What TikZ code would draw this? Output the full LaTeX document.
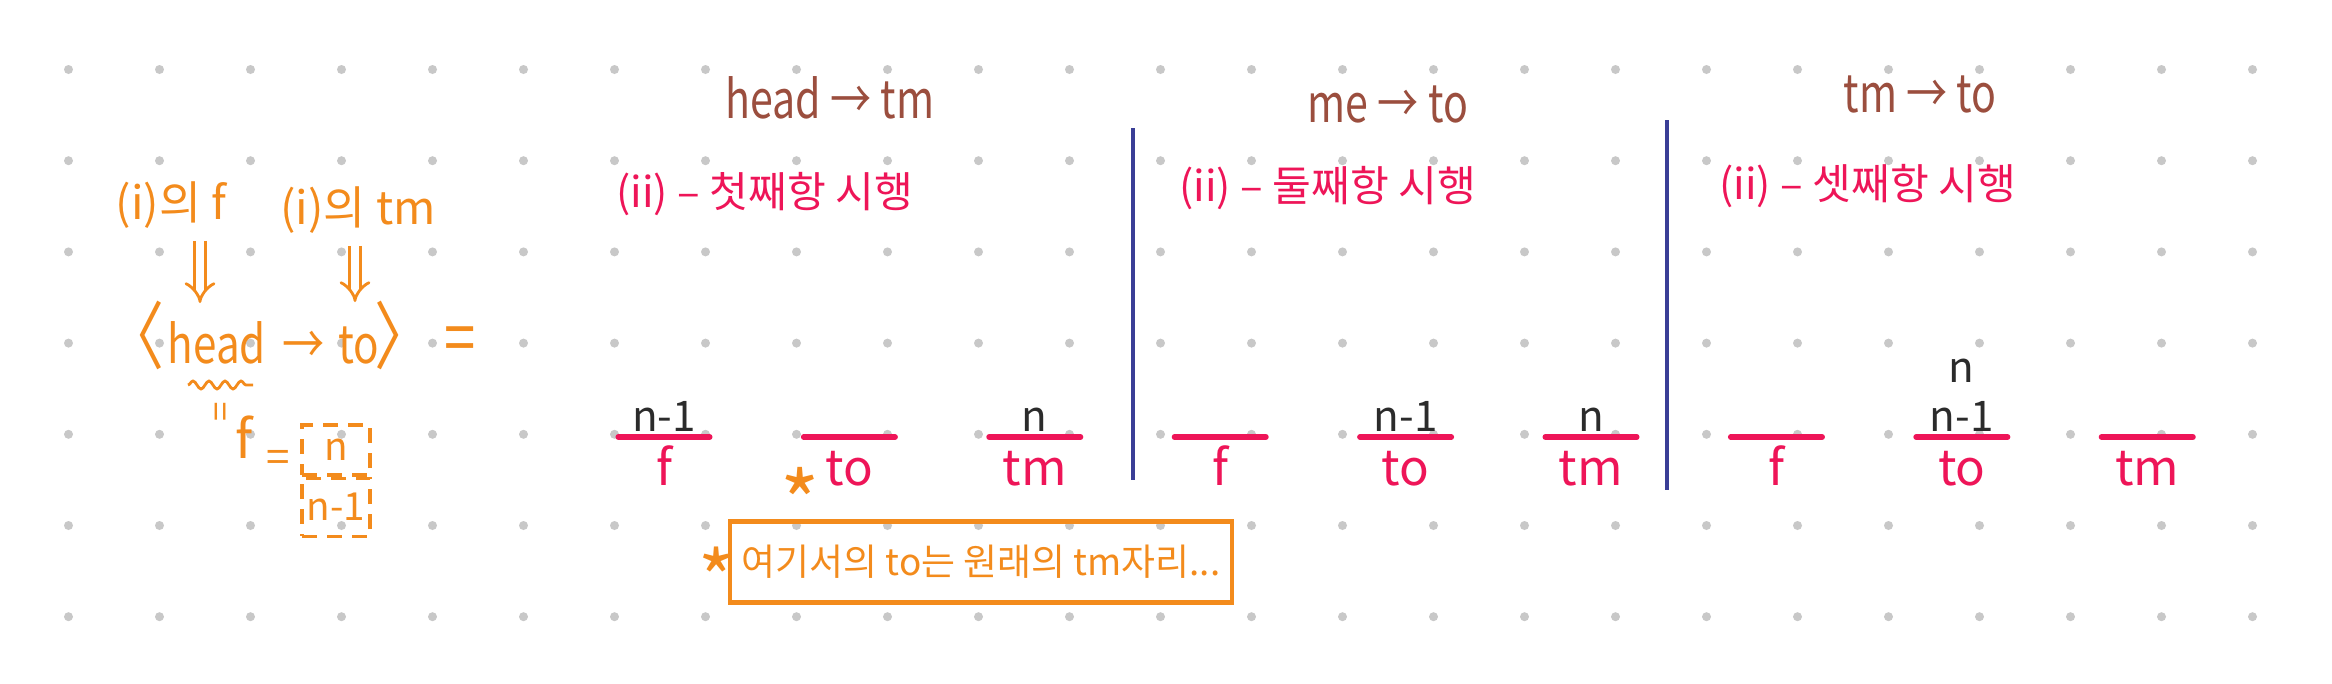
\documentclass[tikz,border=0pt]{standalone}
\usepackage{fontspec}
\setmainfont{Noto Sans CJK KR}
\usepackage{tikz}
\usetikzlibrary{arrows.meta}
\usetikzlibrary{positioning}
\usetikzlibrary{decorations.pathmorphing}
\definecolor{dotgray}{HTML}{C8C8C8}
\definecolor{penorange}{HTML}{F38B1C}
\definecolor{penbrown}{HTML}{9B4E3E}
\definecolor{penpink}{HTML}{EE1558}
\definecolor{penblue}{HTML}{3A3E96}
\definecolor{penblack}{HTML}{2B2B2B}

\begin{document}
\begin{tikzpicture}[x=0.1mm,y=-0.1mm,>={Implies[scale=1.4]}]
	\tikzstyle{title}=[text=penbrown,font=\fontsize{15}{18}\selectfont,xscale=0.78];
	\tikzstyle{casetext}=[text=penpink,anchor=west,font=\fontsize{12}{14}\selectfont];
	\tikzstyle{slot}=[text=penpink,minimum width=9mm,text height=3.5mm,text depth=0.5mm,
		inner ysep=1.3mm,font=\fontsize{14}{16}\selectfont,node distance=9.4mm,label distance=1.2mm];
	\tikzstyle{disc}=[text=penblack,font=\fontsize{12}{14}\selectfont,inner sep=0.5mm,align=center];
	\tikzstyle{slotline}=[penpink,line width=1.6pt,line cap=round];
	\tikzstyle{divider}=[penblue,line width=0.9pt];
	\tikzstyle{pen}=[text=penorange,font=\fontsize{13}{16}\selectfont];
	\tikzstyle{formula}=[text=penorange,font=\fontsize{15}{18}\selectfont,inner sep=0pt,xscale=0.8];
	\tikzstyle{cell}=[draw=penorange,line width=0.9pt,dash pattern=on 1.5mm off 1mm,inner xsep=0.3mm,
		text=penorange,minimum width=6.8mm,font=\fontsize{11}{13}\selectfont];
	\tikzstyle{implies}=[penorange,double,line width=0.8pt,double distance=2.2pt,->];

	\useasboundingbox (0,0) rectangle (2332,683);
	\fill[white] (0,0) rectangle (2332,683);
	% dot grid
	\foreach \i in {0,...,24}
		\foreach \j in {0,...,6}
			\fill[dotgray] (68.5+91*\i,69.5+91.2*\j) circle (0.45mm);

	% left: <head -> to> =
	\node[pen](fi) at (171,205) {(i)의 f};
	\node[pen](tmi) at (358,210) {(i)의 tm};
	\node[formula,anchor=base](head) at (217,363) {head};
	\node[formula,base left=0.25mm of head,font=\fontsize{21}{21}\selectfont](lbr) {〈};
	\node[formula,base right=1.5mm of head](arr) {→};
	\node[formula,base right=1.3mm of arr](to) {to};
	\node[formula,base right=-0.6mm of to,font=\fontsize{21}{21}\selectfont](rbr) {〉};
	\node[formula,base right=1mm of rbr,font=\fontsize{20}{20}\selectfont](eq) {=};
	\coordinate (a1) at (200,303);
	\coordinate (a2) at (355,302);
	\draw[implies](fi.south -| a1)--(a1);
	\draw[implies](tmi.south -| a2)--(a2);
	\draw[penorange,line width=0.8pt,decorate,decoration={snake,amplitude=0.4mm,segment length=1.6mm}]
		([xshift=-2.9mm,yshift=-2.2mm]head.base)--([xshift=3.6mm,yshift=-2.2mm]head.base);
	\node[pen,rotate=90,font=\fontsize{10}{10}\selectfont](same) at (224,412) {=};
	\node[formula,xscale=1.25](fhead) at (244,437) {f};
	\node[pen,font=\fontsize{12}{12}\selectfont](feq) at (278,461) {=};
	\node[cell,minimum height=5mm](cn) at (336,450) {n};
	\node[cell,minimum height=5.8mm,below=0mm of cn](cn1) {n-1};

	% titles
	\node[title](t1) at (830,98) {head → tm};
	\node[title](t2) at (1388,104) {me → to};
	\node[title](t3) at (1920,94) {tm → to};
	\node[casetext](c1) at (604,194) {(ii) – 첫째항 시행};
	\node[casetext](c2) at (1167,188) {(ii) – 둘째항 시행};
	\node[casetext](c3) at (1707,186) {(ii) – 셋째항 시행};
	\draw[divider](1133,128)--(1133,480);
	\draw[divider](1667,120)--(1667,490);

	% pegs
	\node[slot,anchor=north,label={[disc]above:n-1}](f1) at (664,437) {f};
	\node[slot,right=of f1](to1) {to};
	\node[slot,right=of to1,label={[disc]above:n}](tm1) {tm};
	\node[slot,right=of tm1](f2) {f};
	\node[slot,right=of f2,label={[disc]above:n-1}](to2) {to};
	\node[slot,right=of to2,label={[disc]above:n}](tm2) {tm};
	\node[slot,right=of tm2](f3) {f};
	\node[slot,right=of f3,label={[disc]above:n\\n-1}](to3) {to};
	\node[slot,right=of to3](tm3) {tm};
	\draw[slotline](f1.north west)--(f1.north east);
	\draw[slotline](to1.north west)--(to1.north east);
	\draw[slotline](tm1.north west)--(tm1.north east);
	\draw[slotline](f2.north west)--(f2.north east);
	\draw[slotline](to2.north west)--(to2.north east);
	\draw[slotline](tm2.north west)--(tm2.north east);
	\draw[slotline](f3.north west)--(f3.north east);
	\draw[slotline](to3.north west)--(to3.north east);
	\draw[slotline](tm3.north west)--(tm3.north east);

	% note
	\node[pen,font=\fontsize{24}{24}\selectfont,anchor=base](star) at (800,534) {*};
	\node[pen,draw=penorange,line width=1.2pt,minimum width=49.3mm,minimum height=8.1mm,
		font=\fontsize{10.5}{12}\selectfont](memo) at (981,562) {여기서의 to는 원래의 tm자리...};
	\node[pen,font=\fontsize{22}{22}\selectfont,anchor=base](memostar) at (717,608) {*};
\end{tikzpicture}
\end{document}
